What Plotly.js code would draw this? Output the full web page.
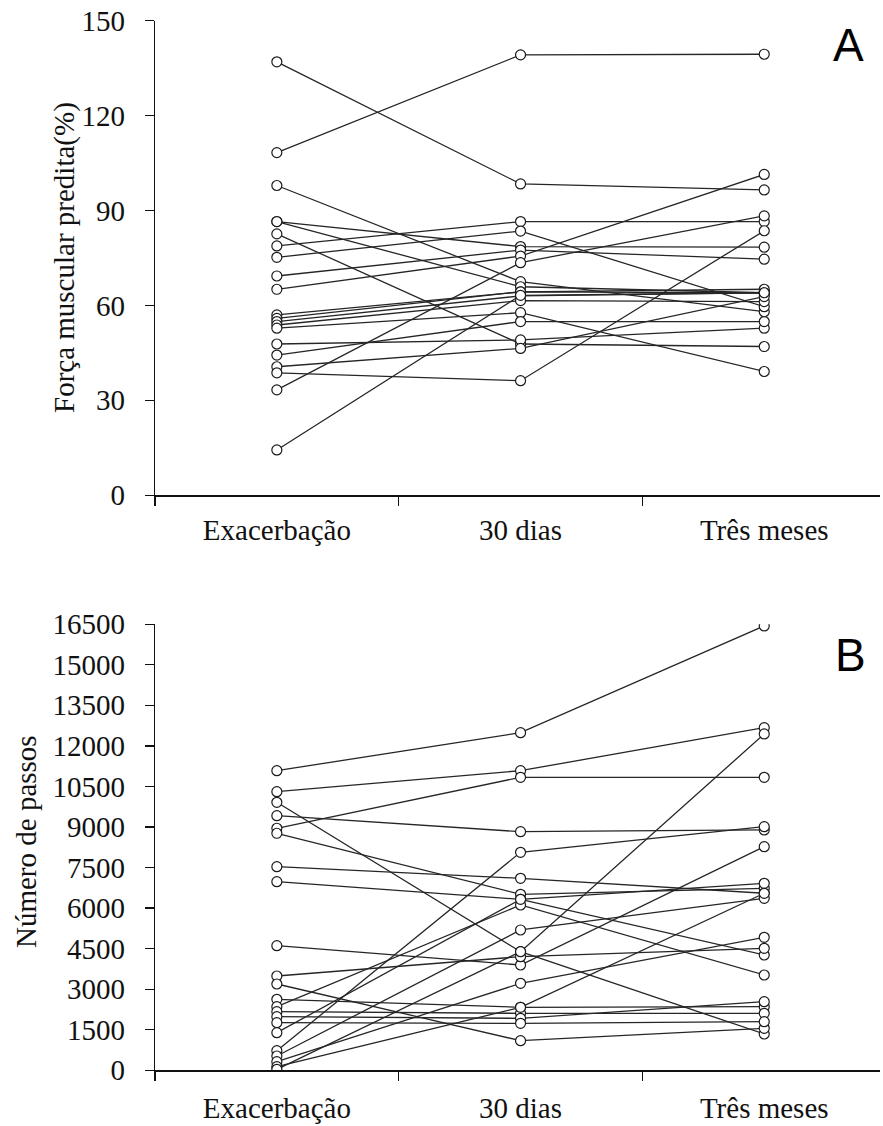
<!DOCTYPE html>
<html>
<head>
<meta charset="utf-8">
<script src="https://cdn.plot.ly/plotly-3.0.1.min.js"></script>
<style>html,body{margin:0;padding:0;background:#fff;}#chart{width:883px;height:1126px;}</style>
</head>
<body>
<div id="chart"></div>
<script>
// Categories (time points)
const categories = ["Exacerbação", "30 dias", "Três meses"];

// Panel A: Força muscular predita (%) per patient
const forcaExac = [137.0, 108.3, 97.9, 86.5, 82.6, 86.5, 78.8, 75.2, 69.3, 65.1, 57.0, 55.9, 54.9, 53.8, 52.8, 47.8, 44.3, 40.6, 38.7, 33.3, 14.3];
const forca30   = [98.4, 139.2, 67.5, 78.6, 47.8, 65.9, 86.5, 83.5, 77.5, 75.6, 64.3, 64.3, 63.0, 61.5, 57.7, 49.1, 54.9, 46.4, 36.2, 73.5, 63.2];
const forca3m   = [96.5, 139.4, 58.0, 78.4, 47.0, 64.0, 86.5, 59.6, 74.6, 101.4, 64.0, 65.1, 64.0, 61.2, 39.1, 52.8, 54.9, 62.8, 83.6, 88.3, 64.0];

// Panel B: Número de passos per patient
const passosExac = [11082, 10305, 9913, 9418, 8952, 8767, 7531, 6976, 4609, 3488, 3192, 2626, 2353, 2168, 1983, 1761, 1391, 725, 529, 318, 133, 37];
const passos30   = [12488, 11082, 4387, 8826, 10838, 6510, 7102, 6325, 3895, 4202, 1095, 2330, 6114, 2108, 1923, 1738, 6325, 8064, 5190, 3218, 2330, 4387];
const passos3m   = [16435, 12673, 1343, 8889, 10838, 6732, 6547, 4265, 8271, 4513, 1554, 2353, 3525, 2108, 2538, 1798, 6917, 9011, 6362, 4920, 6547, 12440];

// Tick labels
const ticksA = [0, 30, 60, 90, 120, 150];
const ticksB = [0, 1500, 3000, 4500, 6000, 7500, 9000, 10500, 12000, 13500, 15000, 16500];

const W = 883, H = 1126;
const serif = "Liberation Serif, Times New Roman, serif";
const fs = 29;

const traces = [];
function addPanel(a, b, c, xa, ya) {
  const allX = [], allY = [];
  for (let i = 0; i < a.length; i++) {
    traces.push({
      x: categories, y: [a[i], b[i], c[i]], xaxis: xa, yaxis: ya,
      type: "scatter", mode: "lines",
      line: {color: "#262626", width: 1.3},
      hoverinfo: "skip", showlegend: false
    });
    allX.push(...categories); allY.push(a[i], b[i], c[i]);
  }
  traces.push({
    x: allX, y: allY, xaxis: xa, yaxis: ya, type: "scatter", mode: "markers",
    marker: {symbol: "circle", size: 10, color: "#ffffff", line: {color: "#1a1a1a", width: 1.2}},
    showlegend: false, hoverinfo: "skip"
  });
}
addPanel(forcaExac, forca30, forca3m, "x", "y");
addPanel(passosExac, passos30, passos3m, "x2", "y2");

const xl = 155 / W, xr = 880 / W;
const yA0 = (H - 495.2) / H, yA1 = (H - 20.7) / H;
const yB0 = (H - 1070.3) / H, yB1 = (H - 624.2) / H;

function xaxisDef(anchor, standoff) {
  return {
    type: "category", domain: [xl, xr], anchor: anchor, range: [-0.5, 2.475],
    showline: true, linecolor: "#111", linewidth: 1.3, mirror: false,
    ticks: "outside", ticklen: 9, tickwidth: 1.3, tickcolor: "#111", tickson: "boundaries",
    showgrid: false, zeroline: false, fixedrange: true,
    tickfont: {family: serif, size: fs, color: "#111"}, ticklabelstandoff: standoff
  };
}
function yaxisDef(anchor, dom, range, vals) {
  return {
    domain: dom, anchor: anchor, range: range, tickmode: "array", tickvals: vals,
    ticktext: vals.map(String),
    showline: true, linecolor: "#111", linewidth: 1.3,
    ticks: "outside", ticklen: 9, tickwidth: 1.3, tickcolor: "#111",
    showgrid: false, zeroline: false, fixedrange: true,
    tickfont: {family: serif, size: fs, color: "#111"}, ticklabelstandoff: 14
  };
}

const layout = {
  width: W, height: H,
  margin: {l: 0, r: 0, t: 0, b: 0, pad: 0},
  paper_bgcolor: "#ffffff", plot_bgcolor: "#ffffff",
  showlegend: false,
  xaxis: xaxisDef("y", 9),
  yaxis: yaxisDef("x", [yA0, yA1], [0, 150], ticksA),
  xaxis2: xaxisDef("y2", 12),
  yaxis2: yaxisDef("x2", [yB0, yB1], [0, 16500], ticksB),
  annotations: [
    {text: "Força muscular predita(%)", xref: "paper", yref: "paper", x: 65 / W, y: (H - 258) / H,
     xanchor: "center", yanchor: "middle", textangle: -90, showarrow: false,
     font: {family: serif, size: fs, color: "#111"}},
    {text: "Número de passos", xref: "paper", yref: "paper", x: 26 / W, y: (H - 842) / H,
     xanchor: "center", yanchor: "middle", textangle: -90, showarrow: false,
     font: {family: serif, size: fs, color: "#111"}},
    {text: "A", xref: "paper", yref: "paper", x: 848 / W, y: (H - 45) / H,
     xanchor: "center", yanchor: "middle", showarrow: false,
     font: {family: "Liberation Sans, Arial, sans-serif", size: 46, color: "#000"}},
    {text: "B", xref: "paper", yref: "paper", x: 850 / W, y: (H - 655) / H,
     xanchor: "center", yanchor: "middle", showarrow: false,
     font: {family: "Liberation Sans, Arial, sans-serif", size: 46, color: "#000"}}
  ]
};

Plotly.newPlot("chart", traces, layout, {staticPlot: true, displayModeBar: false});
</script>
</body>
</html>
